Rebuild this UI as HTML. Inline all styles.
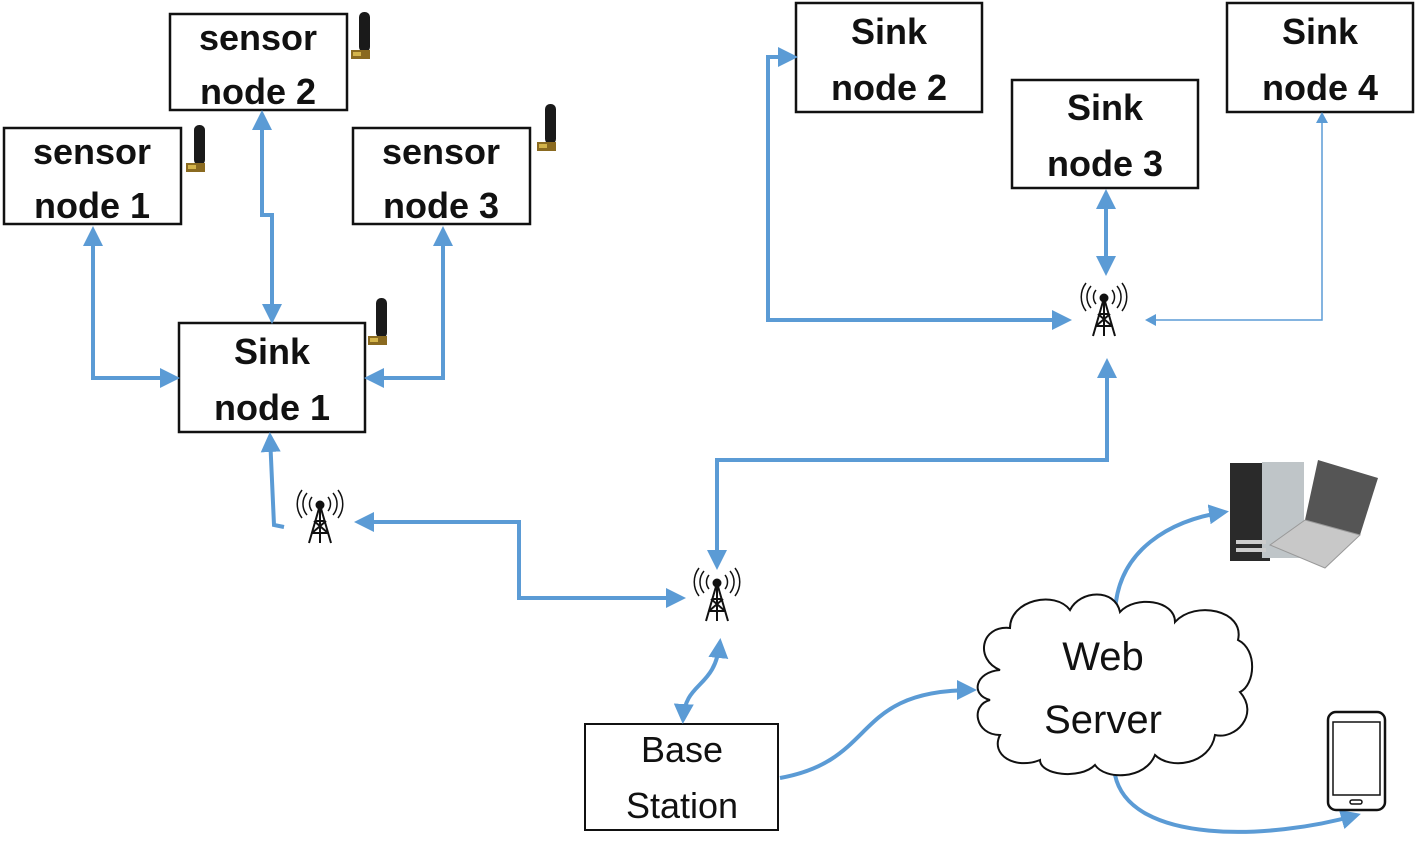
<!DOCTYPE html>
<html><head><meta charset="utf-8"><style>
html,body{margin:0;padding:0;background:#fff}
svg{display:block}
text{font-family:"Liberation Sans",sans-serif;fill:#111}
</style></head><body>
<svg width="1418" height="850" viewBox="0 0 1418 850" xmlns="http://www.w3.org/2000/svg">
<defs>
<marker id="b" viewBox="0 0 10 10" refX="8" refY="5" markerWidth="5" markerHeight="5" orient="auto-start-reverse" markerUnits="strokeWidth"><path d="M0,0 L10,5 L0,10 z" fill="#5b9bd5"/></marker>
<g id="ant"><rect x="0" y="0" width="11" height="40" rx="5" fill="#1a1a1a"/><rect x="-8" y="38" width="19" height="9" fill="#8a6a20"/><rect x="-6" y="40" width="8" height="4" fill="#d4b44a"/></g>
<g id="tw" stroke="#111" fill="none" stroke-width="2">
<circle cx="0" cy="0" r="3.5" fill="#111"/>
<line x1="0" y1="0" x2="-11" y2="38"/><line x1="0" y1="0" x2="11" y2="38"/><line x1="0" y1="0" x2="0" y2="38"/>
<line x1="-5" y1="16" x2="5" y2="16"/><line x1="-8" y1="28" x2="8" y2="28"/><line x1="-6" y1="16" x2="8" y2="28"/><line x1="6" y1="16" x2="-8" y2="28"/>
<path d="M-8,-8 a11,11 0 0,0 0,14" stroke-width="1.5"/><path d="M8,-8 a11,11 0 0,1 0,14" stroke-width="1.5"/>
<path d="M-13,-12 a17,17 0 0,0 0,22" stroke-width="1.5"/><path d="M13,-12 a17,17 0 0,1 0,22" stroke-width="1.5"/>
<path d="M-18,-15 a23,23 0 0,0 0,28" stroke-width="1.5"/><path d="M18,-15 a23,23 0 0,1 0,28" stroke-width="1.5"/>
</g>
</defs>

<g fill="#fff" stroke="#111" stroke-width="2.5">
<rect x="170" y="14" width="177" height="96"/>
<rect x="4" y="128" width="177" height="96"/>
<rect x="353" y="128" width="177" height="96"/>
<rect x="179" y="323" width="186" height="109"/>
<rect x="796" y="3" width="186" height="109"/>
<rect x="1012" y="80" width="186" height="108"/>
<rect x="1227" y="3" width="186" height="109"/>
<rect x="585" y="724" width="193" height="106" stroke-width="2"/>
</g>
<g font-size="36" font-weight="bold" text-anchor="middle">
<text x="258" y="50">sensor</text><text x="258" y="104">node 2</text>
<text x="92" y="164">sensor</text><text x="92" y="218">node 1</text>
<text x="441" y="164">sensor</text><text x="441" y="218">node 3</text>
<text x="272" y="364">Sink</text><text x="272" y="420">node 1</text>
<text x="889" y="44">Sink</text><text x="889" y="100">node 2</text>
<text x="1105" y="120">Sink</text><text x="1105" y="176">node 3</text>
<text x="1320" y="44">Sink</text><text x="1320" y="100">node 4</text>
</g>
<g font-size="36" text-anchor="middle">
<text x="682" y="762">Base</text><text x="682" y="818">Station</text>
</g>
<use href="#ant" x="359" y="12"/><use href="#ant" x="194" y="125"/><use href="#ant" x="545" y="104"/><use href="#ant" x="376" y="298"/>

<use href="#tw" x="320" y="505"/><use href="#tw" x="717" y="583"/><use href="#tw" x="1104" y="298"/>

<g stroke="#5b9bd5" stroke-width="4" fill="none">
<polyline points="93,230 93,378 176,378" marker-start="url(#b)" marker-end="url(#b)"/>
<polyline points="262,114 262,215 272,215 272,320" marker-start="url(#b)" marker-end="url(#b)"/>
<polyline points="443,230 443,378 368,378" marker-start="url(#b)" marker-end="url(#b)"/>
<polyline points="270,436 274,525 284,527" marker-start="url(#b)"/>
<polyline points="358,522 519,522 519,598 682,598" marker-start="url(#b)" marker-end="url(#b)"/>
<polyline points="717,566 717,460 1107,460 1107,362" marker-start="url(#b)" marker-end="url(#b)"/>
<polyline points="794,57 768,57 768,320 1068,320" marker-start="url(#b)" marker-end="url(#b)"/>
<polyline points="1106,193 1106,272" marker-start="url(#b)" marker-end="url(#b)"/>
<path d="M720,642 C715,690 685,680 683,720" marker-start="url(#b)" marker-end="url(#b)"/>
<path d="M780,778 C880,760 850,690 973,690" marker-end="url(#b)"/>
<path d="M1115,612 C1118,550 1170,520 1225,512" marker-end="url(#b)"/>
<path d="M1115,775 C1130,845 1270,840 1357,815" marker-end="url(#b)"/>
</g>
<polyline points="1322,120 1322,320 1152,320" stroke="#5b9bd5" stroke-width="1.5" fill="none"/>
<path d="M1322,112 l-6,11 h12 z M1145,320 l11,-6 v12 z" fill="#5b9bd5"/>

<path d="M1000,670 C975,660 980,625 1010,628 C1010,600 1055,590 1070,610 C1080,590 1115,588 1120,612 C1135,595 1175,600 1175,622 C1195,600 1245,610 1238,640 C1258,650 1255,685 1240,692 C1260,715 1235,740 1215,735 C1210,765 1170,770 1155,755 C1145,780 1105,780 1095,765 C1080,780 1040,775 1040,760 C1015,770 990,755 1000,735 C975,735 970,705 990,700 C970,695 975,672 1000,670 z" fill="#fff" stroke="#111" stroke-width="2"/>
<text x="1103" y="670" font-size="40" text-anchor="middle">Web</text>
<text x="1103" y="733" font-size="40" text-anchor="middle">Server</text>

<g>
<rect x="1230" y="463" width="40" height="98" fill="#2a2a2a"/>
<rect x="1262" y="462" width="42" height="96" fill="#bfc5c8"/>
<rect x="1236" y="540" width="30" height="4" fill="#ccc"/><rect x="1236" y="548" width="30" height="4" fill="#ccc"/>
<polygon points="1318,460 1378,478 1360,535 1305,520" fill="#555"/>
<polygon points="1305,520 1360,535 1325,568 1270,545" fill="#c8c8c8" stroke="#999"/>
</g>
<g fill="none" stroke="#111" stroke-width="2.5">
<rect x="1328" y="712" width="57" height="98" rx="8"/>
<rect x="1333" y="722" width="47" height="73" stroke-width="1.5"/>
<rect x="1350" y="800" width="12" height="4" rx="2" stroke-width="1.5"/>
</g>
</svg>
</body></html>
